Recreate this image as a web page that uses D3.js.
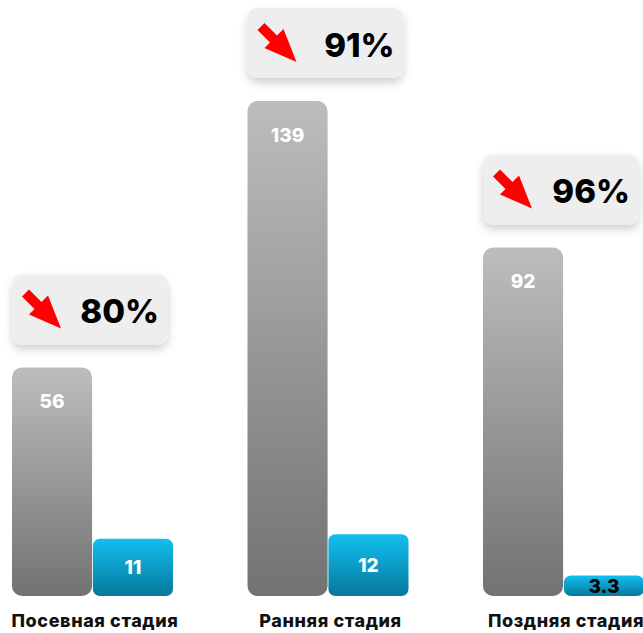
<!DOCTYPE html>
<html><head><meta charset="utf-8">
<script src="https://cdn.jsdelivr.net/npm/d3@7"></script>
<style>html,body{margin:0;padding:0;background:#fff;}svg{display:block;font-family:Inter,"Open Sans",sans-serif;}</style>
</head><body><svg id="c" width="643" height="633"></svg>
<script>
const categories = ["Посевная стадия", "Ранняя стадия", "Поздняя стадия"];
const beforeValues = [56, 139, 92];
const afterValues = [11, 12, 3.3];
const afterLabels = ["11", "12", "3.3"];
const reductionLabels = ["80%", "91%", "96%"];

const svg = d3.select("#c");
const baseY = 596;

const defs = svg.append("defs");
const gg = defs.append("linearGradient").attr("id","gGray").attr("x1",0).attr("y1",0).attr("x2",0).attr("y2",1);
gg.append("stop").attr("offset","0%").attr("stop-color","#bdbdbd");
gg.append("stop").attr("offset","100%").attr("stop-color","#727272");
const gb = defs.append("linearGradient").attr("id","gBlue").attr("x1",0).attr("y1",0).attr("x2",0).attr("y2",1);
gb.append("stop").attr("offset","0%").attr("stop-color","#12bff0");
gb.append("stop").attr("offset","100%").attr("stop-color","#06789a");
const f = defs.append("filter").attr("id","sh").attr("x","-20%").attr("y","-20%").attr("width","140%").attr("height","160%");
f.append("feDropShadow").attr("dx",0).attr("dy",5).attr("stdDeviation",4).attr("flood-color","#000").attr("flood-opacity",0.18);

const x = d3.scalePoint().domain(categories).range([92, 563]);
const sub = d3.scaleBand().domain(["before","after"]).range([-80, 81]).paddingInner(0.01);
const h = d3.scalePow().exponent(0.85).domain([0, 139]).range([0, 495]);

const g = svg.selectAll("g.grp").data(categories).join("g").attr("class","grp")
  .attr("transform", d => `translate(${x(d)},0)`);

// gray bars
g.append("rect")
  .attr("x", sub("before")).attr("width", sub.bandwidth())
  .attr("y", (d,i) => baseY - h(beforeValues[i])).attr("height", (d,i) => h(beforeValues[i]))
  .attr("rx", 10).attr("fill", "url(#gGray)");
g.append("text")
  .attr("x", sub("before") + sub.bandwidth()/2)
  .attr("y", (d,i) => baseY - h(beforeValues[i]) + 41)
  .attr("text-anchor","middle").attr("fill","#fff").attr("font-weight",800).attr("font-size",19)
  .text((d,i) => beforeValues[i]);

// blue bars
g.append("rect")
  .attr("x", sub("after")).attr("width", sub.bandwidth())
  .attr("y", (d,i) => baseY - h(afterValues[i])).attr("height", (d,i) => h(afterValues[i]))
  .attr("rx", 7).attr("fill", "url(#gBlue)");
g.append("text")
  .attr("x", sub("after") + sub.bandwidth()/2)
  .attr("y", (d,i) => baseY - h(afterValues[i])/2 + 7)
  .attr("text-anchor","middle")
  .attr("fill", (d,i) => h(afterValues[i]) < 30 ? "#000" : "#fff")
  .attr("font-weight",800).attr("font-size",19)
  .text((d,i) => afterLabels[i]);

// category labels
g.append("text")
  .attr("x", 3).attr("y", 627)
  .attr("text-anchor","middle").attr("fill","#111").attr("font-weight",800).attr("font-size",18)
  .attr("letter-spacing", 0.6)
  .text(d => d);

// callout boxes
const box = g.append("g")
  .attr("transform", (d,i) => `translate(${sub("before")},${baseY - h(beforeValues[i]) - 23 - 70})`);
box.append("rect").attr("width",156).attr("height",70).attr("rx",10)
  .attr("fill","#eeeeee").attr("filter","url(#sh)");
box.append("path")
  .attr("d","M10,22 L17,15 L29.5,27.5 L36,21 L49,54 L17,40 L22.5,34.5 Z")
  .attr("fill","#ff0000");
box.append("text")
  .attr("x", 147).attr("y", 49)
  .attr("text-anchor","end").attr("fill","#000").attr("font-weight",800).attr("font-size",33)
  .text((d,i) => reductionLabels[i]);
</script></body></html>
